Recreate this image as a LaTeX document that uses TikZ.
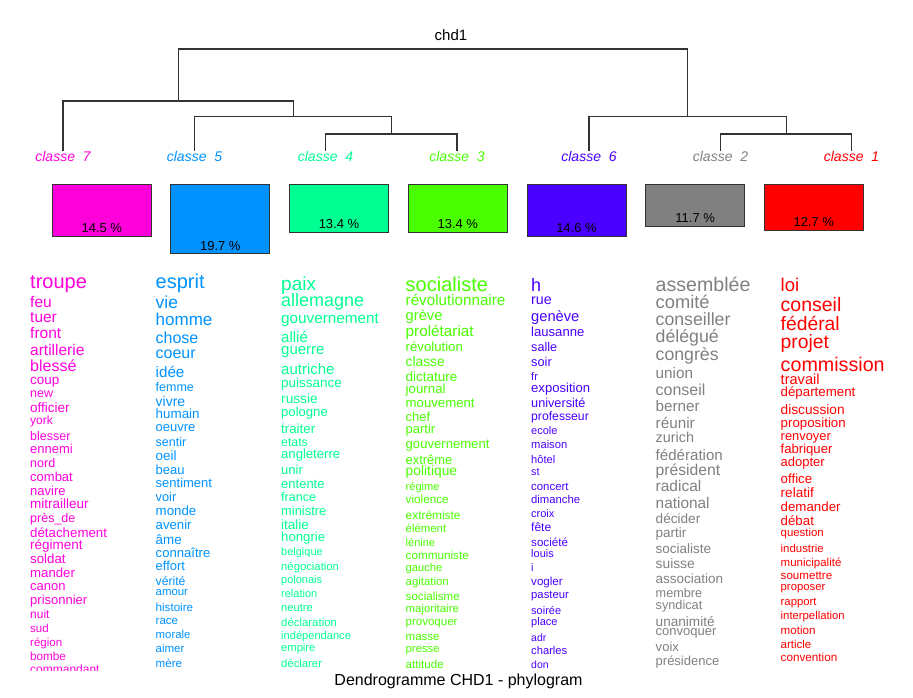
\documentclass[tikz,border=0pt]{standalone}
\usepackage{fontspec}
\setmainfont{Liberation Sans}
\usepackage{tikz}
\usetikzlibrary{positioning}
\usetikzlibrary{calc}

\definecolor{colseven}{HTML}{FF00DB}
\definecolor{colfive}{HTML}{0092FF}
\definecolor{colfour}{HTML}{00FF92}
\definecolor{colthree}{HTML}{49FF00}
\definecolor{colsix}{HTML}{4900FF}
\definecolor{coltwo}{HTML}{808080}
\definecolor{colone}{HTML}{FF0000}

\newcommand{\fs}[1]{\fontsize{#1}{#1}\selectfont}

\tikzset{
  branch/.style={line width=1.2pt, draw=black!80},
  lab/.style={anchor=base, inner sep=0pt, font={\fs{14}\itshape}},
  pbox/.style={draw=black!80, line width=1pt, anchor=north, minimum width=99pt, inner sep=0pt},
  pct/.style={anchor=base, inner sep=0pt, font=\fs{13}},
  word/.style={anchor=base west, inner sep=0pt},
  c7/.style={word, text=colseven},
  c5/.style={word, text=colfive},
  c4/.style={word, text=colfour},
  c3/.style={word, text=colthree},
  c6/.style={word, text=colsix},
  c2/.style={word, text=coltwo},
  c1/.style={word, text=colone}
}

\begin{document}
\begin{tikzpicture}[x=1pt, y=-1pt]
\useasboundingbox (0,0) rectangle (913,697);

\node[anchor=base, inner sep=0pt] (chd) at (451,40) {\fs{15}chd1};

% leaves of the tree
\node[lab, text=colseven] (lab7) at (63,161) {classe\ \ 7};
\node[lab, text=colfive] (lab5) at (194.5,161) {classe\ \ 5};
\node[lab, text=colfour] (lab4) at (325.5,161) {classe\ \ 4};
\node[lab, text=colthree] (lab3) at (457,161) {classe\ \ 3};
\node[lab, text=colsix] (lab6) at (589,161) {classe\ \ 6};
\node[lab, text=coltwo] (lab2) at (720.5,161) {classe\ \ 2};
\node[lab, text=colone] (lab1) at (851.5,161) {classe\ \ 1};

\coordinate (k43) at (391.2,134);
\coordinate (k543) at (293.3,116.7);
\coordinate (k7543) at (178.3,101);
\coordinate (k21) at (786.7,134);
\coordinate (k621) at (687.7,116.7);
\coordinate (kroot) at (433,49);

\draw[branch] (lab4.north) |- (k43) -| (lab3.north);
\draw[branch] (lab5.north) |- (k543) -| (k43);
\draw[branch] (lab7.north) |- (k7543) -| (k543);
\draw[branch] (lab2.north) |- (k21) -| (lab1.north);
\draw[branch] (lab6.north) |- (k621) -| (k21);
\draw[branch] (k7543) |- (kroot) -| (k621);

% class sizes
\node[pbox, fill=colseven, minimum height=51.7pt] (b7) at (101.8,184.3) {};
\node[pbox, fill=colfive, minimum height=69pt] (b5) at (220.3,184.3) {};
\node[pbox, fill=colfour, minimum height=47.7pt] (b4) at (339,184.3) {};
\node[pbox, fill=colthree, minimum height=47.7pt] (b3) at (457.8,184.3) {};
\node[pbox, fill=colsix, minimum height=51.9pt] (b6) at (576.5,184.3) {};
\node[pbox, fill=coltwo, minimum height=41.7pt] (b2) at (695.2,184.3) {};
\node[pbox, fill=colone, minimum height=45.7pt] (b1) at (813.8,184.3) {};

\node[pct] (p7) at ([yshift=4.3pt]b7.south) {14.5 \%};
\node[pct] (p5) at ([yshift=4.3pt]b5.south) {19.7 \%};
\node[pct] (p4) at ([yshift=4.3pt]b4.south) {13.4 \%};
\node[pct] (p3) at ([yshift=4.3pt]b3.south) {13.4 \%};
\node[pct] (p6) at ([yshift=4.3pt]b6.south) {14.6 \%};
\node[pct] (p2) at ([yshift=4.3pt]b2.south) {11.7 \%};
\node[pct] (p1) at ([yshift=4.3pt]b1.south) {12.7 \%};

\begin{scope}
\clip (0,260) rectangle (913,670);
% classe 7
\node[c7] (c7w1) at (30,288) {\fs{20}troupe};
\node[c7] (c7w2) at (30,307.5) {\fs{15.5}feu};
\node[c7] (c7w3) at (30,322.5) {\fs{15.5}tuer};
\node[c7] (c7w4) at (30,338.5) {\fs{15.5}front};
\node[c7] (c7w5) at (30,355) {\fs{15.5}artillerie};
\node[c7] (c7w6) at (30,371.5) {\fs{16}blessé};
\node[c7] (c7w7) at (30,384) {\fs{13.5}coup};
\node[c7] (c7w8) at (30,397) {\fs{12.5}new};
\node[c7] (c7w9) at (30,412) {\fs{13.5}officier};
\node[c7] (c7w10) at (30,424.5) {\fs{12}york};
\node[c7] (c7w11) at (30,440) {\fs{12.5}blesser};
\node[c7] (c7w12) at (30,453.5) {\fs{13}ennemi};
\node[c7] (c7w13) at (30,467.5) {\fs{12.5}nord};
\node[c7] (c7w14) at (30,481.5) {\fs{13}combat};
\node[c7] (c7w15) at (30,495) {\fs{13}navire};
\node[c7] (c7w16) at (30,508.5) {\fs{13.5}mitrailleur};
\node[c7] (c7w17) at (30,522.5) {\fs{12.5}près\_de};
\node[c7] (c7w18) at (30,537.5) {\fs{13.3}détachement};
\node[c7] (c7w19) at (30,549) {\fs{13.5}régiment};
\node[c7] (c7w20) at (30,563.5) {\fs{13.3}soldat};
\node[c7] (c7w21) at (30,577.5) {\fs{13.2}mander};
\node[c7] (c7w22) at (30,590) {\fs{13}canon};
\node[c7] (c7w23) at (30,604) {\fs{13}prisonnier};
\node[c7] (c7w24) at (30,618.5) {\fs{12}nuit};
\node[c7] (c7w25) at (30,632.5) {\fs{11.5}sud};
\node[c7] (c7w26) at (30,646) {\fs{11.5}région};
\node[c7] (c7w27) at (30,660) {\fs{11.7}bombe};
\node[c7] (c7w28) at (30,673) {\fs{12}commandant};
% classe 5
\node[c5] (c5w1) at (155.5,288.5) {\fs{20}esprit};
\node[c5] (c5w2) at (155.5,308.5) {\fs{17.5}vie};
\node[c5] (c5w3) at (155.5,325.5) {\fs{17}homme};
\node[c5] (c5w4) at (155.5,343.5) {\fs{16}chose};
\node[c5] (c5w5) at (155.5,358.5) {\fs{16}coeur};
\node[c5] (c5w6) at (155.5,377.5) {\fs{15.2}idée};
\node[c5] (c5w7) at (155.5,391) {\fs{12.5}femme};
\node[c5] (c5w8) at (155.5,406) {\fs{14}vivre};
\node[c5] (c5w9) at (155.5,418.5) {\fs{13.4}humain};
\node[c5] (c5w10) at (155.5,431.5) {\fs{13}oeuvre};
\node[c5] (c5w11) at (155.5,446) {\fs{12.5}sentir};
\node[c5] (c5w12) at (155.5,460) {\fs{13.5}oeil};
\node[c5] (c5w13) at (155.5,474.5) {\fs{13}beau};
\node[c5] (c5w14) at (155.5,487.5) {\fs{13}sentiment};
\node[c5] (c5w15) at (155.5,501) {\fs{12.8}voir};
\node[c5] (c5w16) at (155.5,515) {\fs{13.3}monde};
\node[c5] (c5w17) at (155.5,529) {\fs{13.2}avenir};
\node[c5] (c5w18) at (155.5,544) {\fs{13.4}âme};
\node[c5] (c5w19) at (155.5,557.5) {\fs{13.1}connaître};
\node[c5] (c5w20) at (155.5,570) {\fs{13}effort};
\node[c5] (c5w21) at (155.5,585) {\fs{12.2}vérité};
\node[c5] (c5w22) at (155.5,595.5) {\fs{11.4}amour};
\node[c5] (c5w23) at (155.5,611) {\fs{11.6}histoire};
\node[c5] (c5w24) at (155.5,624) {\fs{11.5}race};
\node[c5] (c5w25) at (155.5,638.5) {\fs{11.4}morale};
\node[c5] (c5w26) at (155.5,652.5) {\fs{11.5}aimer};
\node[c5] (c5w27) at (155.5,667.5) {\fs{11.6}mère};
% classe 4
\node[c4] (c4w1) at (281,290) {\fs{19}paix};
\node[c4] (c4w2) at (281,306.5) {\fs{18}allemagne};
\node[c4] (c4w3) at (281,323.5) {\fs{15.3}gouvernement};
\node[c4] (c4w4) at (281,342.5) {\fs{15}allié};
\node[c4] (c4w5) at (281,354.5) {\fs{15}guerre};
\node[c4] (c4w6) at (281,374.5) {\fs{15}autriche};
\node[c4] (c4w7) at (281,387.5) {\fs{13.5}puissance};
\node[c4] (c4w8) at (281,403.5) {\fs{13.7}russie};
\node[c4] (c4w9) at (281,416.5) {\fs{13.1}pologne};
\node[c4] (c4w10) at (281,433.5) {\fs{13.3}traiter};
\node[c4] (c4w11) at (281,446.5) {\fs{12.3}etats};
\node[c4] (c4w12) at (281,458.5) {\fs{13.1}angleterre};
\node[c4] (c4w13) at (281,474.5) {\fs{13}unir};
\node[c4] (c4w14) at (281,488.5) {\fs{13}entente};
\node[c4] (c4w15) at (281,501.5) {\fs{12.6}france};
\node[c4] (c4w16) at (281,515.5) {\fs{12.9}ministre};
\node[c4] (c4w17) at (281,529.5) {\fs{13.5}italie};
\node[c4] (c4w18) at (281,541) {\fs{13.2}hongrie};
\node[c4] (c4w19) at (281,555.5) {\fs{11}belgique};
\node[c4] (c4w20) at (281,570) {\fs{11.3}négociation};
\node[c4] (c4w21) at (281,583.5) {\fs{11}polonais};
\node[c4] (c4w22) at (281,597.5) {\fs{11}relation};
\node[c4] (c4w23) at (281,611.5) {\fs{11.2}neutre};
\node[c4] (c4w24) at (281,626) {\fs{11.4}déclaration};
\node[c4] (c4w25) at (281,639.5) {\fs{11.1}indépendance};
\node[c4] (c4w26) at (281,651.5) {\fs{11.2}empire};
\node[c4] (c4w27) at (281,667.5) {\fs{11.3}déclarer};
% classe 3
\node[c3] (c3w1) at (405.5,291) {\fs{20}socialiste};
\node[c3] (c3w2) at (405.5,305) {\fs{15.2}révolutionnaire};
\node[c3] (c3w3) at (405.5,320) {\fs{14.7}grève};
\node[c3] (c3w4) at (405.5,336.5) {\fs{15.3}prolétariat};
\node[c3] (c3w5) at (405.5,351) {\fs{13.2}révolution};
\node[c3] (c3w6) at (405.5,366.5) {\fs{13.8}classe};
\node[c3] (c3w7) at (405.5,381.5) {\fs{13.5}dictature};
\node[c3] (c3w8) at (405.5,393.5) {\fs{13.3}journal};
\node[c3] (c3w9) at (405.5,407.5) {\fs{13.2}mouvement};
\node[c3] (c3w10) at (405.5,421.5) {\fs{13}chef};
\node[c3] (c3w11) at (405.5,433.5) {\fs{13}partir};
\node[c3] (c3w12) at (405.5,448.5) {\fs{13.1}gouvernement};
\node[c3] (c3w13) at (405.5,464.5) {\fs{12.9}extrême};
\node[c3] (c3w14) at (405.5,475) {\fs{13.8}politique};
\node[c3] (c3w15) at (405.5,490) {\fs{11.1}régime};
\node[c3] (c3w16) at (405.5,503.5) {\fs{11.7}violence};
\node[c3] (c3w17) at (405.5,519) {\fs{11.9}extrémiste};
\node[c3] (c3w18) at (405.5,532.5) {\fs{11.4}élément};
\node[c3] (c3w19) at (405.5,546.5) {\fs{11}lénine};
\node[c3] (c3w20) at (405.5,559) {\fs{11.7}communiste};
\node[c3] (c3w21) at (405.5,571.5) {\fs{11.2}gauche};
\node[c3] (c3w22) at (405.5,585) {\fs{11.4}agitation};
\node[c3] (c3w23) at (405.5,600.5) {\fs{11.6}socialisme};
\node[c3] (c3w24) at (405.5,612.5) {\fs{11.4}majoritaire};
\node[c3] (c3w25) at (405.5,625) {\fs{11.5}provoquer};
\node[c3] (c3w26) at (405.5,640.5) {\fs{11.5}masse};
\node[c3] (c3w27) at (405.5,652.5) {\fs{11.3}presse};
\node[c3] (c3w28) at (405.5,668.5) {\fs{11.6}attitude};
% classe 6
\node[c6] (c6w1) at (531,291) {\fs{18}h};
\node[c6] (c6w2) at (531,304.5) {\fs{14.3}rue};
\node[c6] (c6w3) at (531,321.5) {\fs{14.7}genève};
\node[c6] (c6w4) at (531,336.5) {\fs{13.1}lausanne};
\node[c6] (c6w5) at (531,351) {\fs{12.6}salle};
\node[c6] (c6w6) at (531,366.5) {\fs{12.8}soir};
\node[c6] (c6w7) at (531,380) {\fs{11}fr};
\node[c6] (c6w8) at (531,392.5) {\fs{13.1}exposition};
\node[c6] (c6w9) at (531,407.5) {\fs{12.7}université};
\node[c6] (c6w10) at (531,420) {\fs{12.2}professeur};
\node[c6] (c6w11) at (531,434.5) {\fs{11}ecole};
\node[c6] (c6w12) at (531,448.5) {\fs{11.2}maison};
\node[c6] (c6w13) at (531,463.5) {\fs{11.1}hôtel};
\node[c6] (c6w14) at (531,475) {\fs{10.7}st};
\node[c6] (c6w15) at (531,490) {\fs{11.4}concert};
\node[c6] (c6w16) at (531,503.5) {\fs{11.3}dimanche};
\node[c6] (c6w17) at (531,517.5) {\fs{11}croix};
\node[c6] (c6w18) at (531,531.5) {\fs{12}fête};
\node[c6] (c6w19) at (531,546) {\fs{11.6}société};
\node[c6] (c6w20) at (531,557.5) {\fs{11}louis};
\node[c6] (c6w21) at (531,571.5) {\fs{11}i};
\node[c6] (c6w22) at (531,585) {\fs{11.6}vogler};
\node[c6] (c6w23) at (531,598.5) {\fs{11.3}pasteur};
\node[c6] (c6w24) at (531,614.5) {\fs{11}soirée};
\node[c6] (c6w25) at (531,625.5) {\fs{11}place};
\node[c6] (c6w26) at (531,641) {\fs{10.5}adr};
\node[c6] (c6w27) at (531,654.5) {\fs{11.2}charles};
\node[c6] (c6w28) at (531,668.5) {\fs{10.5}don};
% classe 2
\node[c2] (c2w1) at (655.5,291) {\fs{19.6}assemblée};
\node[c2] (c2w2) at (655.5,308.5) {\fs{18.3}comité};
\node[c2] (c2w3) at (655.5,325.5) {\fs{17.7}conseiller};
\node[c2] (c2w4) at (655.5,342.5) {\fs{17.7}délégué};
\node[c2] (c2w5) at (655.5,360) {\fs{17.7}congrès};
\node[c2] (c2w6) at (655.5,378.5) {\fs{15.3}union};
\node[c2] (c2w7) at (655.5,395) {\fs{16}conseil};
\node[c2] (c2w8) at (655.5,411.5) {\fs{15.2}berner};
\node[c2] (c2w9) at (655.5,428.5) {\fs{15.3}réunir};
\node[c2] (c2w10) at (655.5,442.5) {\fs{14.4}zurich};
\node[c2] (c2w11) at (655.5,460) {\fs{15.1}fédération};
\node[c2] (c2w12) at (655.5,475) {\fs{15.7}président};
\node[c2] (c2w13) at (655.5,491.5) {\fs{15.5}radical};
\node[c2] (c2w14) at (655.5,508.5) {\fs{15.4}national};
\node[c2] (c2w15) at (655.5,523.5) {\fs{13.6}décider};
\node[c2] (c2w16) at (655.5,537.5) {\fs{13.5}partir};
\node[c2] (c2w17) at (655.5,553.5) {\fs{13.5}socialiste};
\node[c2] (c2w18) at (655.5,568.5) {\fs{13.8}suisse};
\node[c2] (c2w19) at (655.5,583.5) {\fs{13.5}association};
\node[c2] (c2w20) at (655.5,597.5) {\fs{12.7}membre};
\node[c2] (c2w21) at (655.5,609) {\fs{12.7}syndicat};
\node[c2] (c2w22) at (655.5,626) {\fs{13.6}unanimité};
\node[c2] (c2w23) at (655.5,635.5) {\fs{13}convoquer};
\node[c2] (c2w24) at (655.5,651.5) {\fs{13.1}voix};
\node[c2] (c2w25) at (655.5,665.5) {\fs{13}présidence};
% classe 1
\node[c1] (c1w1) at (780.5,291) {\fs{18.5}loi};
\node[c1] (c1w2) at (780.5,311) {\fs{19.5}conseil};
\node[c1] (c1w3) at (780.5,330) {\fs{19.3}fédéral};
\node[c1] (c1w4) at (780.5,348.5) {\fs{19.3}projet};
\node[c1] (c1w5) at (780.5,371) {\fs{19.7}commission};
\node[c1] (c1w6) at (780.5,384.5) {\fs{14.6}travail};
\node[c1] (c1w7) at (780.5,396.5) {\fs{13.3}département};
\node[c1] (c1w8) at (780.5,414) {\fs{13.7}discussion};
\node[c1] (c1w9) at (780.5,427.5) {\fs{13.3}proposition};
\node[c1] (c1w10) at (780.5,440) {\fs{12.9}renvoyer};
\node[c1] (c1w11) at (780.5,453.5) {\fs{13.1}fabriquer};
\node[c1] (c1w12) at (780.5,466.5) {\fs{13}adopter};
\node[c1] (c1w13) at (780.5,483.5) {\fs{13.3}office};
\node[c1] (c1w14) at (780.5,497.5) {\fs{13.6}relatif};
\node[c1] (c1w15) at (780.5,511) {\fs{13.3}demander};
\node[c1] (c1w16) at (780.5,525.5) {\fs{13.3}débat};
\node[c1] (c1w17) at (780.5,536.5) {\fs{11.4}question};
\node[c1] (c1w18) at (780.5,552.5) {\fs{11.4}industrie};
\node[c1] (c1w19) at (780.5,566) {\fs{11.5}municipalité};
\node[c1] (c1w20) at (780.5,579) {\fs{11.6}soumettre};
\node[c1] (c1w21) at (780.5,590) {\fs{11.3}proposer};
\node[c1] (c1w22) at (780.5,605) {\fs{11.3}rapport};
\node[c1] (c1w23) at (780.5,619.5) {\fs{11.3}interpellation};
\node[c1] (c1w24) at (780.5,634) {\fs{11.6}motion};
\node[c1] (c1w25) at (780.5,648.5) {\fs{11.5}article};
\node[c1] (c1w26) at (780.5,661.5) {\fs{11.7}convention};
\end{scope}

\node[anchor=base, inner sep=0pt] (titre) at (458.5,685) {\fs{16}Dendrogramme CHD1 - phylogram};
\end{tikzpicture}
\end{document}
